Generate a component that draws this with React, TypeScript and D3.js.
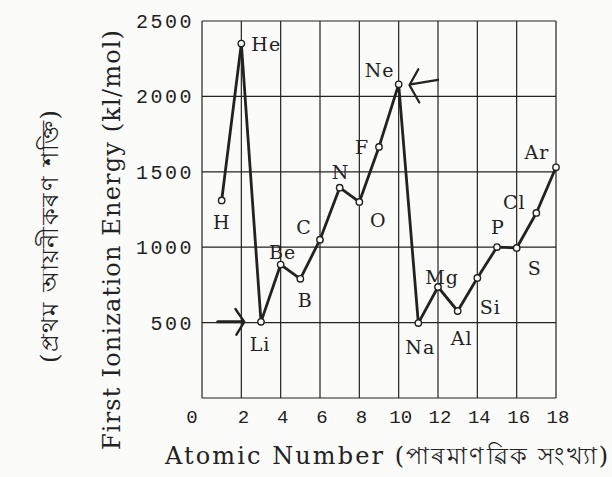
import React from 'react';
import * as d3 from 'd3';

// data
const atomicNumbers = [1, 2, 3, 4, 5, 6, 7, 8, 9, 10, 11, 12, 13, 14, 15, 16, 17, 18];
const symbols = ['H', 'He', 'Li', 'Be', 'B', 'C', 'N', 'O', 'F', 'Ne', 'Na', 'Mg', 'Al', 'Si', 'P', 'S', 'Cl', 'Ar'];
const energies = [1310, 2350, 505, 885, 790, 1050, 1395, 1300, 1665, 2080, 497, 736, 577, 796, 1001, 995, 1227, 1530];
const xTicks = [0, 2, 4, 6, 8, 10, 12, 14, 16, 18];
const yTicks = [500, 1000, 1500, 2000, 2500];

// label placement relative to each point (pixels)
const labelOffsets: [number, number][] = [
  [0, 22], [10, 1], [-1, 23], [2, -12], [5, 21], [-16, -12], [1, -15], [19, 18], [-17, 0],
  [-19, -14], [2, 24], [4, -10], [4, 27], [13, 29], [1, -20], [18, 20], [-22, -11], [-19, -15],
];

const W = 612;
const H = 477;
const margin = { top: 21, right: 56, bottom: 79, left: 202 };

const App: React.FC = () => {
  const x = d3.scaleLinear().domain([0, 18]).range([margin.left, W - margin.right]);
  const y = d3.scaleLinear().domain([0, 2500]).range([H - margin.bottom, margin.top]);

  const line = d3.line<number>()
    .x((_, i) => x(atomicNumbers[i]))
    .y(d => y(d));

  const ink = '#222';
  const bg = '#fbfbfa';
  const serif = "'DejaVu Serif', serif";
  const mono = "'Liberation Mono', 'DejaVu Sans Mono', monospace";

  return (
    <div style={{ position: 'absolute', left: 0, top: 0 }}>
      <svg width={W} height={H} style={{ display: 'block', background: bg }}>
        {/* grid */}
        <g stroke={ink} strokeWidth={1.2}>
          {xTicks.map(t => (
            <line key={'gx' + t} x1={x(t)} x2={x(t)} y1={y(0)} y2={y(2500)} />
          ))}
          {[0, ...yTicks].map(t => (
            <line key={'gy' + t} x1={x(0)} x2={x(18)} y1={y(t)} y2={y(t)} />
          ))}
        </g>

        {/* y tick labels */}
        <g fontFamily={mono} fontSize={20} fill={ink} textAnchor="end" letterSpacing={2.5}>
          {yTicks.map(t => (
            <text key={'yt' + t} x={x(0) - 8} y={y(t)} dy="0.35em">{t}</text>
          ))}
        </g>

        {/* x tick labels */}
        <g fontFamily={mono} fontSize={19} fill={ink} textAnchor="middle">
          {xTicks.map(t => (
            <text key={'xt' + t} x={x(t) + (t === 0 ? -10 : 2)} y={y(0) + 25}>{t}</text>
          ))}
        </g>

        {/* data line */}
        <path d={line(energies) || ''} fill="none" stroke={ink} strokeWidth={2.8} strokeLinejoin="round" />
        {energies.map((e, i) => (
          <circle key={'pt' + i} cx={x(atomicNumbers[i])} cy={y(e)} r={3.2}
            fill={bg} stroke={ink} strokeWidth={1.4} />
        ))}

        {/* element labels */}
        <g fontFamily={serif} fontSize={19} fill={ink} letterSpacing={1}>
          {symbols.map((s, i) => {
            const [dx, dy] = labelOffsets[i];
            const anchor = i === 1 ? 'start' : 'middle';
            return (
              <text key={'lb' + s} x={x(atomicNumbers[i]) + dx} y={y(energies[i]) + dy}
                dy="0.35em" textAnchor={anchor}>{s}</text>
            );
          })}
        </g>

        {/* arrows pointing at Li and Ne */}
        <g fill="none" stroke={ink} strokeWidth={3} strokeLinecap="round" strokeLinejoin="round">
          <path d={`M${x(0.8)},${y(505)} L${x(2.1)},${y(505)}`} />
          <path d={`M${x(1.7)},${y(590)} L${x(2.15)},${y(505)} L${x(1.75)},${y(420)}`} strokeWidth={2.4} />
          <path d={`M${x(12)},${y(2110)} L${x(10.6)},${y(2080)}`} strokeWidth={2.4} />
          <path d={`M${x(11)},${y(2180)} L${x(10.55)},${y(2075)} L${x(11.05)},${y(1960)}`} strokeWidth={2.2} />
        </g>

        {/* axis titles */}
        <text x={165} y={464} textLength={443} lengthAdjust="spacing"
          fontFamily={serif} fontSize={24} fill={ink}>
          Atomic Number (পাৰমাণৱিক সংখ্যা)
        </text>
        <text transform="translate(120,450) rotate(-90)" textLength={420} lengthAdjust="spacing"
          fontFamily={serif} fontSize={24} fill={ink}>
          First Ionization Energy (kl/mol)
        </text>
        <text transform="translate(58,363) rotate(-90)" textLength={253} lengthAdjust="spacing"
          fontFamily={serif} fontSize={24} fill={ink}>
          (প্ৰথম আয়নীকৰণ শক্তি)
        </text>
      </svg>
    </div>
  );
};

export default App;
